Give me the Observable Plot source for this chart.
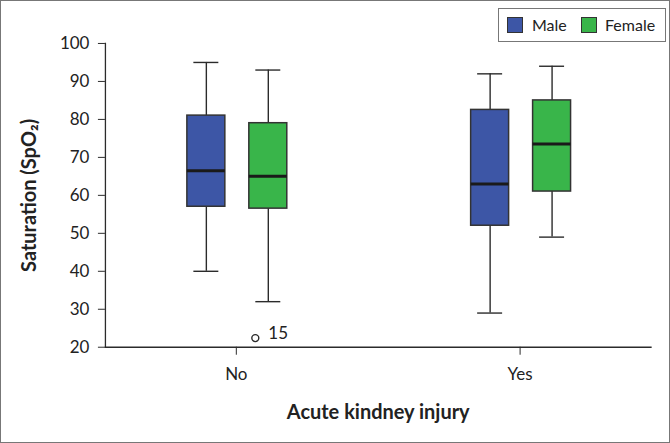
<!DOCTYPE html>
<html>
<head>
<meta charset="utf-8">
<script src="https://cdn.jsdelivr.net/npm/d3@7"></script>
<script src="https://cdn.jsdelivr.net/npm/@observablehq/plot@0.6"></script>
<style>
  html, body { margin: 0; padding: 0; background: #fff; }
  #wrap { position: relative; width: 670px; height: 443px; box-sizing: border-box; border: 1.5px solid #777; overflow: hidden; }
  #chart { position: absolute; left: -1.5px; top: -1.5px; }
  #legend { position: absolute; left: 497px; top: 7px; width: 168px; height: 34px; box-sizing: border-box;
            border: 1px solid #777; background: #fff; font-family: Lato, sans-serif; font-size: 16px; color: #222; }
  .sw { position: absolute; top: 8px; width: 16px; height: 16px; box-sizing: border-box; border: 1px solid #333; }
  .lbl { position: absolute; top: 6px; line-height: 20px; white-space: nowrap; }
</style>
</head>
<body>
<div id="wrap">
  <div id="chart"></div>
  <div id="legend"></div>
</div>
<script>
// ---- data ----
const groupDomain = ["No", "Yes"];
const sexDomain = ["Male", "Female"];
const sexColors = ["#3d56a6", "#39b54a"];

const groups  = ["No", "No", "Yes", "Yes"];
const sexes   = ["Male", "Female", "Male", "Female"];
const mins    = [40, 32, 29, 49];
const q1s     = [57, 56.5, 52, 61];
const medians = [66.5, 65, 63, 73.5];
const q3s     = [81, 79, 82.5, 85];
const maxs    = [95, 93, 92, 94];

const outlierGroups = ["No"];
const outlierSexes  = ["Female"];
const outlierValues = [22.4];
const outlierLabels = ["15"];

const yTicks = [20, 30, 40, 50, 60, 70, 80, 90, 100];

const boxes = sexes.map((s, i) => ({
  group: groups[i], sex: s, min: mins[i], q1: q1s[i], median: medians[i], q3: q3s[i], max: maxs[i]
}));
const outliers = outlierValues.map((v, i) => ({
  group: outlierGroups[i], sex: outlierSexes[i], value: v, label: outlierLabels[i]
}));

const stroke = "#2b2b2b";

const chart = Plot.plot({
  width: 670,
  height: 443,
  marginLeft: 105,
  marginRight: 19,
  marginTop: 43,
  marginBottom: 96,
  style: { fontFamily: "Lato, sans-serif", fontSize: "17px", color: "#222", background: "transparent", overflow: "visible" },
  fx: { domain: groupDomain, paddingInner: 0.0775, paddingOuter: 0 },
  x: { domain: sexDomain, paddingInner: 0.381, paddingOuter: 1.27, align: 0.509, axis: null },
  y: { domain: [20, 100] },
  color: { domain: sexDomain, range: sexColors },
  marks: [
    Plot.frame({ anchor: "left", facet: "super", stroke, strokeWidth: 1.3 }),
    Plot.frame({ anchor: "bottom", facet: "super", stroke, strokeWidth: 1.3 }),
    Plot.axisY({ ticks: yTicks, tickSize: 7, tickPadding: 9, label: "Saturation (SpO\u2082)", labelAnchor: "center", labelArrow: "none", labelOffset: 84, stroke }),
    Plot.axisFx({ anchor: "bottom", tickSize: 8, tickPadding: 13, label: "Acute kindney injury", labelAnchor: "center", labelArrow: "none", labelOffset: 72, stroke }),
    // whiskers
    Plot.ruleX(boxes, { fx: "group", x: "sex", y1: "min", y2: "q1", stroke, strokeWidth: 1.4 }),
    Plot.ruleX(boxes, { fx: "group", x: "sex", y1: "q3", y2: "max", stroke, strokeWidth: 1.4 }),
    Plot.tickY(boxes, { fx: "group", x: "sex", y: "min", stroke, strokeWidth: 1.4, insetLeft: 6.5, insetRight: 6.5 }),
    Plot.tickY(boxes, { fx: "group", x: "sex", y: "max", stroke, strokeWidth: 1.4, insetLeft: 6.5, insetRight: 6.5 }),
    // boxes
    Plot.barY(boxes, { fx: "group", x: "sex", y1: "q1", y2: "q3", fill: "sex", stroke: "#333", strokeWidth: 1.5 }),
    Plot.tickY(boxes, { fx: "group", x: "sex", y: "median", stroke: "#1a1a1a", strokeWidth: 3 }),
    // outlier
    Plot.dot(outliers, { fx: "group", x: "sex", y: "value", r: 3.5, stroke, strokeWidth: 1.4, fill: "none", dx: -13 }),
    Plot.text(outliers, { fx: "group", x: "sex", y: "value", text: "label", textAnchor: "start", dx: 0, dy: -5, fontSize: 17, fill: "#222" })
  ]
});

document.getElementById("chart").appendChild(chart);

// bold axis titles
d3.select(chart).selectAll('g[aria-label="y-axis label"] text, g[aria-label="fx-axis label"] text')
  .attr("font-weight", "bold").attr("font-size", 20);

// legend
const legend = d3.select("#legend");
const swLeft = [8, 82];
const txLeft = [33, 106];
sexDomain.forEach((s, i) => {
  legend.append("span").attr("class", "sw").style("left", swLeft[i] + "px").style("background", sexColors[i]);
  legend.append("span").attr("class", "lbl").style("left", txLeft[i] + "px").text(s);
});
</script>
</body>
</html>
